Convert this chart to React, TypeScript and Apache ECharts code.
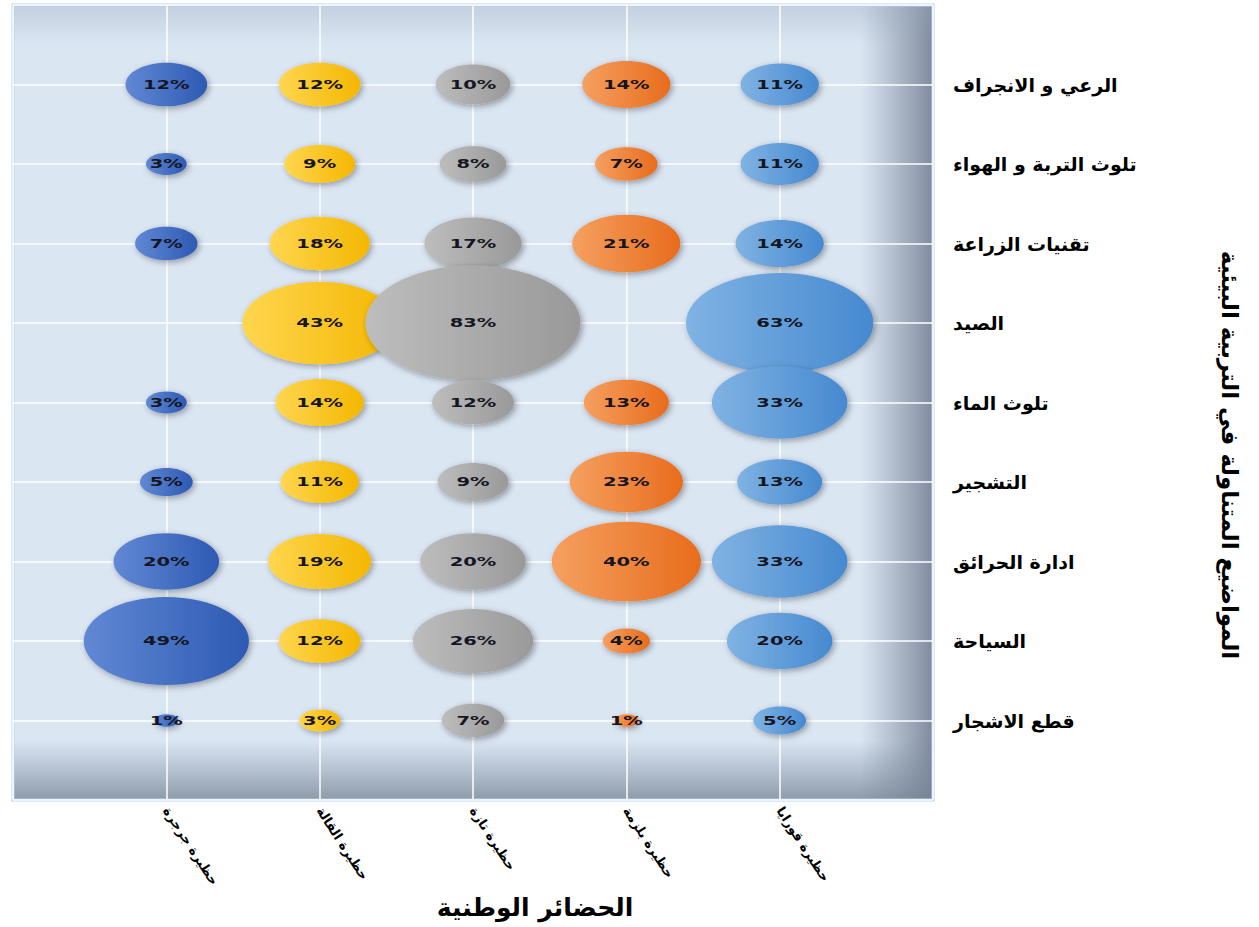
import React, { useEffect, useRef } from "react";
import * as echarts from "echarts";

// Topics, listed top to bottom as in the chart
const topics = [
  "الرعي و الانجراف",
  "تلوث التربة و الهواء",
  "تقنيات الزراعة",
  "الصيد",
  "تلوث الماء",
  "التشجير",
  "ادارة الحرائق",
  "السياحة",
  "قطع الاشجار",
];

// National parks (x categories, left to right)
const parks = ["حظيرة جرجرة", "حظيرة القالة", "حظيرة تازة", "حظيرة بلزمة", "حظيرة قورايا"];

// Percentages per park, in the topics order (null = no bubble)
const djurdjura = [12, 3, 7, null, 3, 5, 20, 49, 1];
const elKala = [12, 9, 18, 43, 14, 11, 19, 12, 3];
const taza = [10, 8, 17, 83, 12, 9, 20, 26, 7];
const belezma = [14, 7, 21, null, 13, 23, 40, 4, 1];
const gouraya = [11, 11, 14, 63, 33, 13, 33, 20, 5];

const seriesValues = [djurdjura, elKala, taza, belezma, gouraya];
const seriesColors: [string, string][] = [
  ["#6188d4", "#2d5ab3"],
  ["#ffd650", "#f4b700"],
  ["#bdbdbd", "#999999"],
  ["#f5a060", "#e86c1c"],
  ["#80b3e3", "#4689d0"],
];

const xTitle = "الحضائر الوطنية";
const yTitle = "المواضيع المتناولة في التربية البيئية";

export default function App() {
  const ref = useRef<HTMLDivElement>(null);

  useEffect(() => {
    if (!ref.current) return;
    const chart = echarts.init(ref.current, undefined, { renderer: "svg" });

    const series = seriesValues.map((vals, si) => {
      const data: number[][] = [];
      vals.forEach((v, ti) => {
        if (v !== null && v !== undefined) data.push([si + 1, topics.length - ti, v]);
      });
      const [c1, c2] = seriesColors[si];
      return {
        type: "custom",
        name: parks[si],
        data,
        encode: { x: 0, y: 1 },
        renderItem: (params: any, api: any) => {
          const v = api.value(2);
          const p = api.coord([api.value(0), api.value(1)]);
          const s = Math.sqrt(v);
          return {
            type: "group",
            children: [
              {
                type: "ellipse",
                shape: { cx: p[0], cy: p[1], rx: 11.8 * s, ry: 6.3 * s },
                style: {
                  fill: new echarts.graphic.LinearGradient(0, 0, 1, 0, [
                    { offset: 0, color: c1 },
                    { offset: 1, color: c2 },
                  ]),
                  shadowBlur: 6,
                  shadowColor: "rgba(0,0,0,0.35)",
                  shadowOffsetX: 2,
                  shadowOffsetY: 2,
                },
              },
              {
                type: "text",
                x: p[0],
                y: p[1],
                scaleX: 1.5,
                style: {
                  text: v + "%",
                  fill: "#161622",
                  font: 'bold 13px "DejaVu Sans"',
                  align: "center",
                  verticalAlign: "middle",
                },
              },
            ],
          };
        },
      };
    });

    chart.setOption({
      animation: false,
      grid: {
        left: 13,
        right: 326,
        top: 5,
        bottom: 127,
        show: true,
        backgroundColor: "transparent",
        borderColor: "#b9d2ee",
        borderWidth: 3,
      },
      xAxis: {
        type: "value",
        min: 0,
        max: 6,
        interval: 1,
        axisLine: { show: false },
        axisTick: { show: false },
        splitLine: { show: true, lineStyle: { color: "#ffffff", width: 1.5 } },
        axisLabel: {
          rotate: -57,
          margin: 8,
          color: "#000",
          fontSize: 13,
          fontWeight: "bold",
          fontFamily: "DejaVu Sans",
          formatter: (v: number) => parks[v - 1] || "",
        },
      },
      yAxis: {
        type: "value",
        position: "right",
        min: 0,
        max: 10,
        interval: 1,
        axisLine: { show: false },
        axisTick: { show: false },
        splitLine: { show: true, lineStyle: { color: "#ffffff", width: 1.5 } },
        axisLabel: {
          margin: 20,
          color: "#000",
          fontSize: 19,
          fontWeight: "bold",
          fontFamily: "DejaVu Sans",
          formatter: (v: number) => (v >= 1 && v <= topics.length ? topics[topics.length - v] : ""),
        },
      },
      graphic: [
        {
          type: "rect",
          z: -10,
          shape: { x: 13, y: 5, width: 920, height: 795 },
          style: { fill: "#dbe6f3" },
        },
        {
          type: "rect",
          z: -9,
          shape: { x: 860, y: 5, width: 73, height: 795 },
          style: {
            fill: new echarts.graphic.LinearGradient(0, 0, 1, 0, [
              { offset: 0, color: "rgba(120,135,155,0)" },
              { offset: 1, color: "rgba(110,122,140,0.85)" },
            ]),
          },
        },
        {
          type: "rect",
          z: -9,
          shape: { x: 13, y: 740, width: 920, height: 60 },
          style: {
            fill: new echarts.graphic.LinearGradient(0, 0, 0, 1, [
              { offset: 0, color: "rgba(120,135,155,0)" },
              { offset: 1, color: "rgba(115,128,145,0.75)" },
            ]),
          },
        },
        {
          type: "rect",
          z: -9,
          shape: { x: 13, y: 5, width: 920, height: 40 },
          style: {
            fill: new echarts.graphic.LinearGradient(0, 0, 0, 1, [
              { offset: 0, color: "rgba(150,165,185,0.35)" },
              { offset: 1, color: "rgba(150,165,185,0)" },
            ]),
          },
        },
        {
          type: "text",
          x: 535,
          y: 907,
          style: {
            text: xTitle,
            fill: "#000",
            font: 'bold 25px "DejaVu Sans"',
            align: "center",
            verticalAlign: "middle",
          },
        },
        {
          type: "text",
          x: 1230,
          y: 455,
          rotation: -Math.PI / 2,
          style: {
            text: yTitle,
            fill: "#000",
            font: 'bold 23px "DejaVu Sans"',
            align: "center",
            verticalAlign: "middle",
          },
        },
      ],
      series,
    });

    return () => chart.dispose();
  }, []);

  return (
    <div
      ref={ref}
      style={{ position: "absolute", left: 0, top: 0, width: 1259, height: 927, background: "#fff" }}
    />
  );
}
